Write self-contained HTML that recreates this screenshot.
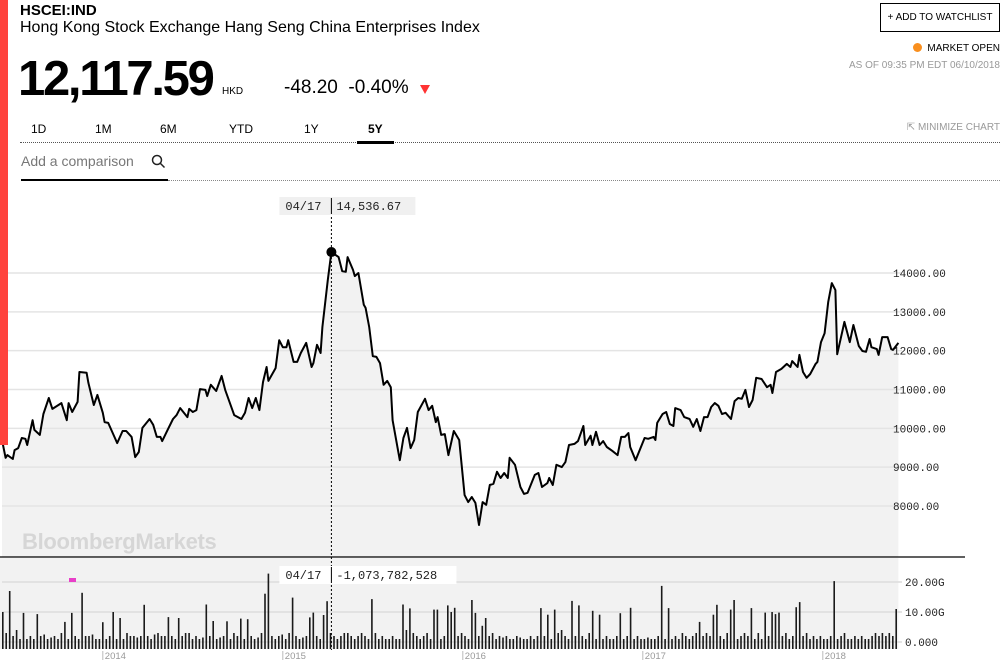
<!DOCTYPE html>
<html><head><meta charset="utf-8"><style>
body{margin:0;width:1005px;height:665px;overflow:hidden;background:#fff;font-family:"Liberation Sans",sans-serif;position:relative}
.a{position:absolute;white-space:nowrap}
</style></head><body>
<div class="a" style="left:20px;top:2px;font-size:15px;font-weight:bold;color:#000">HSCEI:IND</div>
<div class="a" style="left:20px;top:19px;font-size:16px;color:#000">Hong Kong Stock Exchange Hang Seng China Enterprises Index</div>
<div class="a" style="left:18px;top:51px;font-size:49px;font-weight:bold;letter-spacing:-2.3px;color:#000">12,117.59</div>
<div class="a" style="left:222px;top:86px;font-size:10px;color:#000">HKD</div>
<div class="a" style="left:284px;top:77px;font-size:19px;color:#000">-48.20&nbsp;&nbsp;-0.40%</div>
<div class="a" style="left:420px;top:85px;width:0;height:0;border-left:5px solid transparent;border-right:5px solid transparent;border-top:9px solid #f33"></div>
<div class="a" style="left:880px;top:3px;width:118px;height:27px;border:1px solid #000;font-size:10px;line-height:27px;text-align:center;color:#000">+ ADD TO WATCHLIST</div>
<div class="a" style="right:5px;top:43px;font-size:10px;color:#000"><span style="display:inline-block;width:9px;height:9px;border-radius:50%;background:#f98f1e;margin-right:5px;vertical-align:-1px"></span>MARKET OPEN</div>
<div class="a" style="right:5px;top:60px;font-size:10px;color:#999">AS OF 09:35 PM EDT 06/10/2018</div>
<div class="a" style="left:31px;top:122px;font-size:12px">1D</div>
<div class="a" style="left:95px;top:122px;font-size:12px">1M</div>
<div class="a" style="left:160px;top:122px;font-size:12px">6M</div>
<div class="a" style="left:229px;top:122px;font-size:12px">YTD</div>
<div class="a" style="left:304px;top:122px;font-size:12px">1Y</div>
<div class="a" style="left:368px;top:122px;font-size:12px;font-weight:bold">5Y</div>
<div class="a" style="right:5px;top:122px;font-size:10px;color:#999">⇱ MINIMIZE CHART</div>
<div class="a" style="left:20px;top:142px;width:980px;border-top:1px dotted #555"></div>
<div class="a" style="left:357px;top:141px;width:37px;height:3px;background:#000"></div>
<div class="a" style="left:21px;top:153px;font-size:14px;color:#777">Add a comparison</div>
<svg class="a" style="left:151px;top:154px" width="15" height="15"><circle cx="6" cy="6" r="4.5" fill="none" stroke="#222" stroke-width="1.5"/><line x1="9.5" y1="9.5" x2="13.5" y2="13.5" stroke="#222" stroke-width="1.5"/></svg>
<div class="a" style="left:168px;top:180px;width:832px;border-top:1px dotted #888"></div>
<div class="a" style="left:21px;top:179px;width:147px;height:2px;background:#000"></div>
<svg class="a" style="left:0;top:0" width="1005" height="665" id="chart"></svg>
<div class="a" style="left:0;top:0;width:8px;height:445px;background:#ff433d;z-index:5"></div>
<script>
const times=[2013.44,2013.46,2013.47,2013.50,2013.51,2013.53,2013.55,2013.57,2013.58,2013.61,2013.62,2013.65,2013.67,2013.70,2013.72,2013.77,2013.80,2013.81,2013.83,2013.86,2013.87,2013.91,2013.92,2013.95,2013.97,2014.00,2014.01,2014.03,2014.08,2014.11,2014.13,2014.16,2014.18,2014.20,2014.22,2014.26,2014.28,2014.30,2014.32,2014.33,2014.36,2014.39,2014.41,2014.43,2014.47,2014.48,2014.50,2014.52,2014.54,2014.57,2014.58,2014.60,2014.63,2014.66,2014.68,2014.73,2014.77,2014.79,2014.81,2014.83,2014.85,2014.87,2014.89,2014.91,2014.92,2014.96,2014.98,2015.00,2015.02,2015.03,2015.06,2015.08,2015.10,2015.13,2015.16,2015.17,2015.19,2015.21,2015.22,2015.25,2015.27,2015.31,2015.33,2015.35,2015.36,2015.39,2015.40,2015.42,2015.45,2015.46,2015.48,2015.50,2015.52,2015.54,2015.56,2015.58,2015.60,2015.61,2015.65,2015.67,2015.69,2015.71,2015.73,2015.75,2015.79,2015.81,2015.83,2015.85,2015.86,2015.88,2015.90,2015.92,2015.95,2015.98,2016.01,2016.03,2016.05,2016.07,2016.09,2016.11,2016.13,2016.15,2016.17,2016.19,2016.21,2016.23,2016.25,2016.26,2016.29,2016.32,2016.34,2016.36,2016.40,2016.42,2016.44,2016.47,2016.48,2016.50,2016.52,2016.55,2016.57,2016.59,2016.62,2016.64,2016.67,2016.68,2016.71,2016.72,2016.74,2016.76,2016.78,2016.80,2016.83,2016.86,2016.88,2016.90,2016.92,2016.93,2016.96,2017.01,2017.03,2017.06,2017.07,2017.08,2017.11,2017.13,2017.15,2017.17,2017.18,2017.21,2017.23,2017.26,2017.28,2017.30,2017.32,2017.34,2017.36,2017.38,2017.40,2017.42,2017.44,2017.46,2017.49,2017.51,2017.53,2017.55,2017.57,2017.59,2017.61,2017.63,2017.66,2017.69,2017.71,2017.72,2017.74,2017.77,2017.80,2017.82,2017.83,2017.86,2017.87,2017.89,2017.91,2017.93,2017.96,2017.97,2017.99,2018.01,2018.03,2018.05,2018.07,2018.08,2018.11,2018.12,2018.15,2018.17,2018.20,2018.22,2018.24,2018.26,2018.27,2018.30,2018.31,2018.33,2018.36,2018.38,2018.39,2018.42];
const prices=[9700,9240,9310,9210,9440,9490,9750,9730,9570,10210,9960,9830,10370,10780,10500,10650,10210,10650,10420,10680,11450,11430,11170,10600,10860,10400,10160,10140,9620,9930,9930,9780,9260,9390,10010,10240,10090,9780,9780,9670,9960,10240,10340,10520,10290,10500,10420,10470,11010,10990,10830,11120,10960,11350,10990,10340,10240,10400,10780,10520,10780,10470,11190,11580,11220,11550,12270,12090,12090,12270,11710,11710,11940,12200,11580,11680,12150,11940,12610,13820,14540,14410,14050,14030,14410,14080,13920,14000,13180,13100,12610,11860,11840,11680,11120,11220,11060,10210,9180,9750,10010,9490,9700,10420,10760,10470,10580,10160,10290,9830,9850,9310,9930,9700,8280,8100,8230,8080,7510,8100,8030,8540,8570,8880,8720,8850,8720,9240,9060,8490,8310,8340,8800,8850,8490,8590,8720,8540,9060,9000,9130,9570,9600,9670,10060,9570,9810,9570,9910,9570,9670,9520,9420,9310,9780,9780,9880,9520,9180,9750,9730,9780,9700,10140,10370,10420,10110,10060,10520,10470,10290,10240,10040,10240,9930,10290,10290,10550,10650,10580,10370,10400,10240,10700,10780,10760,10990,10550,10730,11300,11270,11060,11120,10910,11450,11530,11660,11580,11730,11580,11890,11450,11300,11400,11660,11710,12220,12450,13250,13740,13560,11910,12530,12740,12220,12660,12120,11990,11970,12300,12090,12040,11890,12350,12350,12040,12020,12200];
const volumes=[10,3,17,2,4,1,9.7,1,2,1,9.3,2,2.5,1,1.5,2,1,3,6.7,1,
9.7,2,1,16.4,2,2,2.5,1,1,6.6,1,2,10,1,8,1,3,2,2,1.5,
2,12.4,2,1,2.5,3,2,2,8.3,2,1,8,2,3,3,1,2,1,1.5,12.5,
2,7,1,1.5,2,6.9,1,3,2,7.8,1,7.6,2,1,1.5,3,16.1,22.8,2,1,
2,2.5,1,3,14.8,2,1,1.5,2,8.2,9.8,2,1,9,13.6,3,2,1,2,3,
3,2,1,2,3,2,1,14.3,3,1,2,1,1,2,1,1,12.5,4,11.2,3,
2,1,2,3,1,10.8,10.8,1,2,12.2,10,11.4,2,3,2,1,14,9.7,2,5.4,
8,2,3,1,2,1.5,2,1,1,2,1.5,1,1,2,1,2,11.3,2,9.1,1,
10.8,3,4,2,1,13.7,2,12.2,2,1,3,10.4,1,9.1,1,2,1,1,2,9.6,
1,2,11.4,1,2,1,1,1.5,1,1,2,18.7,1,11.3,1,2,1,3,2,1,
2,3,6.7,2,3,2,9.1,12.4,2,1,3,10.8,14,1,2,3,2,11.3,1,3,
1,9.8,2,10,9.3,9.8,2,3,1,2,11.6,13.3,2,3,1,2,1,2,1,1,
2,20.3,1,2,3,1,1,2,1,2,1,1,2,3,2,3,2,3,2,11];
const priceTicks=[8000,9000,10000,11000,12000,13000,14000];
const volTicks=[0,10,20];
const volTickLabels=["0.000","10.00G","20.00G"];
const years=[2014,2015,2016,2017,2018];
const hoverDate="04/17", hoverPrice="14,536.67", hoverVol="-1,073,782,528", hoverTime=2015.27, hoverValue=14540;

const NS="http://www.w3.org/2000/svg";
const svg=document.getElementById('chart');
const xT=t=>2+(t-2013.44)*180;
const yP=v=>273+(14000-v)*0.03883;
const yV=g=>642-g*3;
const volStart=2013.44, volStep=1/52.18;
function mk(tag,attrs,parent){const e=document.createElementNS(NS,tag);for(const k in attrs)e.setAttribute(k,attrs[k]);(parent||svg).appendChild(e);return e;}

const right=xT(times[times.length-1]);
let d='M'+xT(times[0])+','+yP(prices[0]);
for(let i=1;i<times.length;i++)d+='L'+xT(times[i]).toFixed(1)+','+yP(prices[i]).toFixed(1);
const fill=mk('path',{d:d+'L'+right+',557L'+xT(times[0])+',557Z',fill:'#f2f2f2'});


priceTicks.forEach(v=>{
  const g=mk('line',{x1:2,x2:902,y1:yP(v),y2:yP(v),stroke:'#e4e4e4','stroke-width':1.5});
  
  
  const t=mk('text',{x:893,y:yP(v)+4,'font-size':11,'font-family':'Liberation Mono, monospace',fill:'#222'});
  t.textContent=v+'.00';
  
  
});
const wm=mk('text',{x:22,y:549,'font-size':22,'font-weight':'bold',fill:'#d6d6d6','letter-spacing':'-0.3'});
wm.textContent='BloombergMarkets';


const line=mk('path',{d:d,fill:'none',stroke:'#000','stroke-width':2,'stroke-linejoin':'round'});



const vbg=mk('rect',{x:0,y:558,width:right,height:91,fill:'#f2f2f2'});


volTicks.forEach((v,i)=>{
  const g=mk('line',{x1:2,x2:902,y1:yV(v),y2:yV(v),stroke:'#dcdcdc','stroke-width':1.5});
  
  
  const t=mk('text',{x:905,y:yV(v)+4,'font-size':11,'font-family':'Liberation Mono, monospace',fill:'#222'});
  t.textContent=volTickLabels[i];
  
  
});
volumes.forEach((g,i)=>{
  const x=xT(volStart+i*volStep);
  const b=mk('rect',{x:x.toFixed(1),y:yV(g),width:1.6,height:649-yV(g),fill:'#1a1a1a'});
  
  
});
const sep=mk('line',{x1:0,x2:965,y1:557,y2:557,stroke:'#000','stroke-width':1.2});


const pm=mk('rect',{x:69,y:578,width:7,height:4,fill:'#e83fc8'});


years.forEach(yr=>{
  const x=xT(yr);
  const l=mk('line',{x1:x,x2:x,y1:651,y2:660,stroke:'#bbb'});
  
  
  const t=mk('text',{x:x+2,y:659,'font-size':9.5,fill:'#999'});
  t.textContent=yr;
  
  
});

const hx=xT(hoverTime);
const ch=mk('line',{x1:hx,x2:hx,y1:197,y2:650,stroke:'#000','stroke-dasharray':'2,2'});


const dot=mk('circle',{cx:hx,cy:yP(hoverValue),r:5,fill:'#000'});


function tip(y,h,bg,w2,txt2,name){
  const g=mk('g',{});
  
  
  mk('rect',{x:hx-52,y:y,width:52+w2,height:h,fill:bg},g);
  mk('line',{x1:hx,x2:hx,y1:y+1,y2:y+h-1,stroke:'#000'},g);
  const a=mk('text',{x:hx-46,y:y+h-5,'font-size':12,'font-family':'Liberation Mono, monospace',fill:'#222'},g);a.textContent=hoverDate;
  const b=mk('text',{x:hx+5,y:y+h-5,'font-size':12,'font-family':'Liberation Mono, monospace',fill:'#222'},g);b.textContent=txt2;
}
tip(197,18,'#f0f0f0',84,hoverPrice,'price-tooltip');
tip(566,18,'#fff',125,hoverVol,'volume-tooltip');
</script>
</body></html>
